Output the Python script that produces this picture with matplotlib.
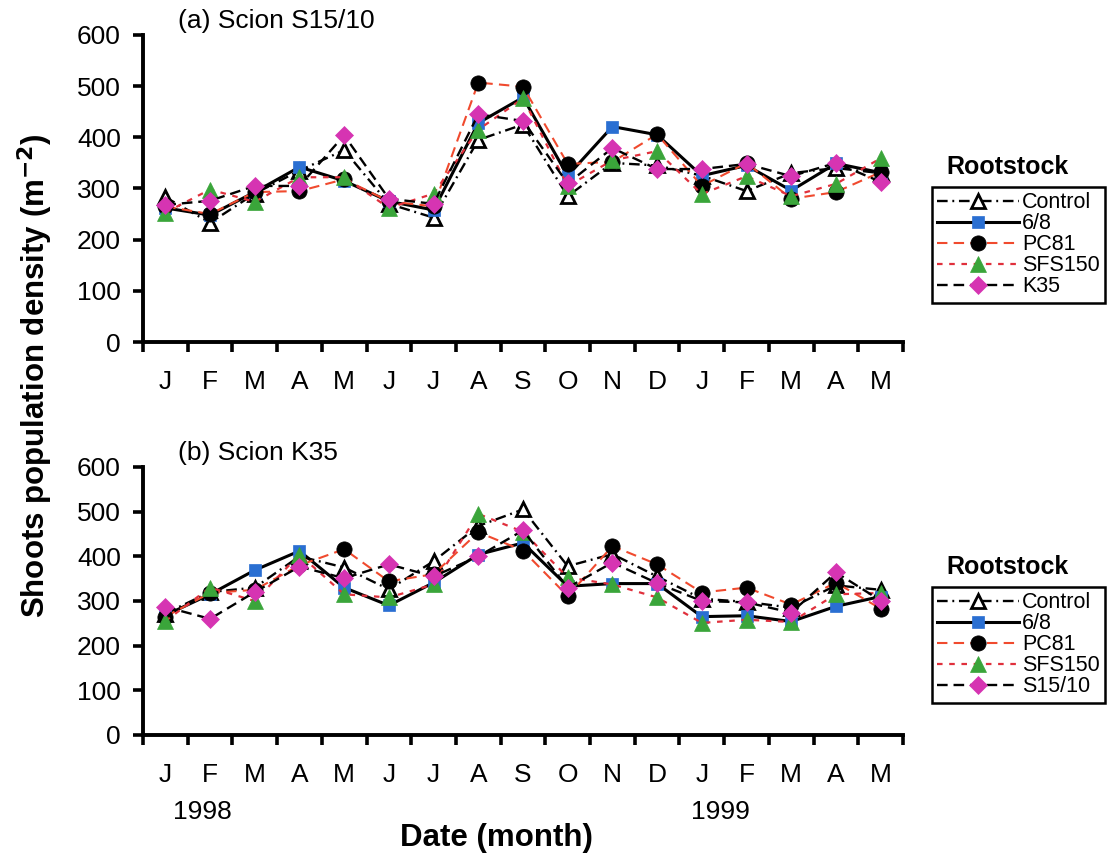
import numpy as np
import matplotlib
matplotlib.use("Agg")
import matplotlib.pyplot as plt

plt.rcParams['font.family'] = ['Liberation Sans', 'DejaVu Sans']

months = ['J', 'F', 'M', 'A', 'M', 'J', 'J', 'A', 'S', 'O', 'N', 'D', 'J', 'F', 'M', 'A', 'M']

# (a) Scion S15/10
a_control = [283, 233, 290, 335, 375, 270, 243, 395, 425, 285, 350, 345, 325, 295, 330, 340, 330]
a_68 = [262, 248, 293, 342, 315, 275, 258, 428, 478, 325, 421, 405, 325, 345, 296, 349, 331]
a_pc81 = [265, 250, 293, 295, 318, 275, 265, 507, 499, 348, 352, 406, 305, 350, 280, 293, 332]
a_sfs150 = [253, 298, 274, 322, 322, 262, 290, 415, 476, 305, 355, 373, 289, 324, 285, 309, 359]
a_k35 = [268, 276, 305, 305, 404, 280, 270, 445, 432, 310, 379, 338, 338, 348, 324, 350, 313]

# (b) Scion K35
b_control = [272, 320, 330, 400, 375, 326, 389, 468, 505, 378, 405, 355, 305, 298, 285, 335, 325]
b_68 = [268, 315, 369, 412, 330, 290, 341, 404, 430, 333, 339, 339, 265, 267, 254, 288, 310]
b_pc81 = [265, 318, 325, 380, 416, 344, 360, 454, 413, 311, 423, 382, 319, 330, 292, 341, 283]
b_sfs150 = [255, 330, 300, 404, 315, 308, 337, 495, 455, 353, 337, 308, 251, 258, 253, 315, 318]
b_s1510 = [287, 260, 320, 377, 351, 382, 355, 400, 458, 330, 386, 340, 300, 297, 274, 364, 301]

a_labels = ['Control', '6/8', 'PC81', 'SFS150', 'K35']
b_labels = ['Control', '6/8', 'PC81', 'SFS150', 'S15/10']

BLUE = '#2a6fd2'
GREEN = '#3aa53a'
MAGENTA = '#d634b2'
RED = '#f04a2e'
CRIMSON = '#e0303c'

styles = [
    dict(color='black', ls=(0, (4.5, 2, 0.8, 2)), lw=1.7, marker='^', ms=10, mfc='white', mec='black', mew=2),
    dict(color='black', ls='-', lw=2.2, marker='s', ms=9, mfc=BLUE, mec=BLUE, mew=0.5),
    dict(color=RED, ls=(0, (5, 3)), lw=1.5, marker='o', ms=11, mfc='black', mec='black', mew=0.5),
    dict(color=CRIMSON, ls=(0, (2.5, 3)), lw=1.6, marker='^', ms=11, mfc=GREEN, mec=GREEN, mew=0.5),
    dict(color='black', ls=(0, (4.5, 2.5)), lw=1.7, marker='D', ms=9, mfc=MAGENTA, mec=MAGENTA, mew=0.5),
]

W, H = 1117, 859
fig = plt.figure(figsize=(W / 100, H / 100), dpi=100)


def panel(rect, series, labels, title, leg_top, title_y):
    ax = fig.add_axes(rect)
    x = np.arange(len(months))
    handles = []
    for vals, lab, st in zip(series, labels, styles):
        h, = ax.plot(x, vals, label=lab, **st)
        handles.append(h)
    ax.set_xlim(-0.5, len(months) - 0.5)
    ax.set_ylim(0, 600)
    ax.set_yticks(range(0, 601, 100))
    ax.set_xticks(np.arange(-0.5, len(months), 1))
    ax.set_xticklabels([])
    ax.set_xticks(x, minor=True)
    ax.set_xticklabels(months, minor=True)
    ax.tick_params(axis='x', which='major', direction='out', length=7, width=2.6)
    ax.tick_params(axis='x', which='minor', length=0, pad=20, labelsize=19)
    ax.tick_params(axis='y', direction='out', length=7, width=2.6, labelsize=19, pad=9)
    for s in ['top', 'right']:
        ax.spines[s].set_visible(False)
    for s in ['left', 'bottom']:
        ax.spines[s].set_linewidth(2.8)
    ax.set_facecolor('none')
    fig.text(178 / W, 1 - title_y / H, title, fontsize=19, va='center', ha='left')
    fig.text(1008 / W, 1 - (leg_top - 20) / H, 'Rootstock', fontsize=18, fontweight='bold',
             ha='center', va='center')
    leg = ax.legend(handles=handles, loc='upper left', bbox_to_anchor=(932 / W, 1 - leg_top / H),
                    bbox_transform=fig.transFigure, fontsize=15.5, frameon=True, fancybox=False,
                    handlelength=3.8, handletextpad=0.12, labelspacing=0.0, borderpad=0.25,
                    borderaxespad=0, framealpha=1)
    leg.get_frame().set_edgecolor('black')
    leg.get_frame().set_linewidth(1.8)
    return ax


panel([143 / W, 1 - 342 / H, 760 / W, 307 / H],
      [a_control, a_68, a_pc81, a_sfs150, a_k35], a_labels, '(a) Scion S15/10', 187, 21)
panel([143 / W, 1 - 735 / H, 760 / W, 268 / H],
      [b_control, b_68, b_pc81, b_sfs150, b_s1510], b_labels, '(b) Scion K35', 587, 453)

fig.text(202 / W, 1 - 812 / H, '1998', fontsize=19, ha='center', va='center')
fig.text(720 / W, 1 - 812 / H, '1999', fontsize=19, ha='center', va='center')
fig.text(496 / W, 1 - 838 / H, 'Date (month)', fontsize=22.5, fontweight='bold', ha='center', va='center')
fig.text(35 / W, 1 - 376 / H, 'Shoots population density (m$^{\\mathbf{-2}}$)', fontsize=22.5,
         fontweight='bold', rotation=90, ha='center', va='center')

fig.savefig('out.png', dpi=100, facecolor='white')
